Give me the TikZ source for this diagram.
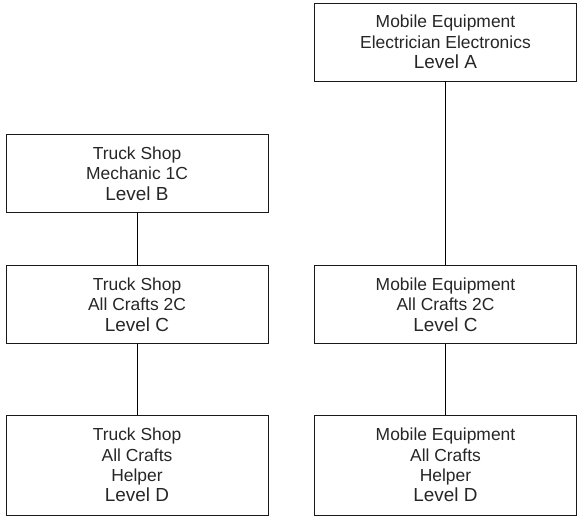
\documentclass[tikz,border=0pt]{standalone}
\usepackage{fontspec}
\setmainfont{Liberation Sans}
\newcommand{\lvl}[1]{{\fontsize{19}{22.5}\selectfont Level #1}}

\begin{document}
\begin{tikzpicture}[x=1bp, y=-1bp, line width=0.9bp,
    box/.style={draw=black!90, rectangle, align=center, inner sep=0pt,
      minimum width=262bp, minimum height=78bp, text=black!85,
      font=\fontsize{17.5}{20.5}\selectfont},
    tallbox/.style={box, minimum height=100bp}]
  \useasboundingbox (0,0) rectangle (578,519);

  % right column
  \node[box]     (meA) at (445.5, 42)  {Mobile Equipment\\Electrician Electronics\\\lvl{A}};
  \node[box]     (meC) at (445.5, 304.5) {Mobile Equipment\\All Crafts 2C\\\lvl{C}};
  \node[tallbox] (meD) at (445.5, 465) {Mobile Equipment\\All Crafts\\Helper\\\lvl{D}};

  % left column
  \node[box]     (tsB) at (137, 173.5) {Truck Shop\\Mechanic 1C\\\lvl{B}};
  \node[box]     (tsC) at (137, 304.5) {Truck Shop\\All Crafts 2C\\\lvl{C}};
  \node[tallbox] (tsD) at (137, 465)   {Truck Shop\\All Crafts\\Helper\\\lvl{D}};

  \draw (meA) -- (meC);
  \draw (meC) -- (meD);
  \draw (tsB) -- (tsC);
  \draw (tsC) -- (tsD);
\end{tikzpicture}
\end{document}
